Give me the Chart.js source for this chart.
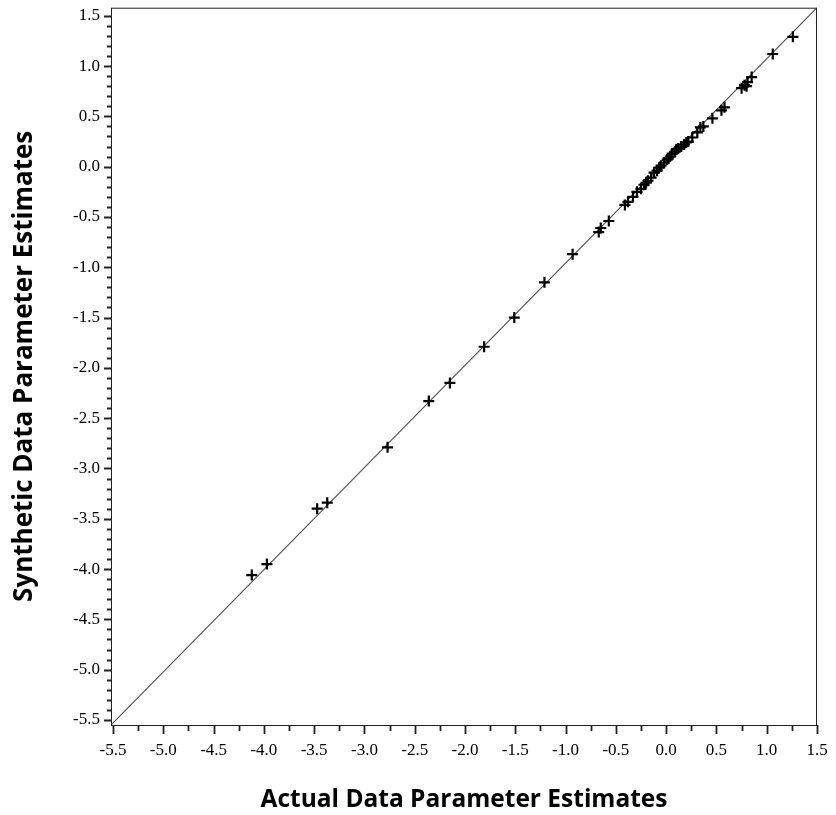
<!DOCTYPE html>
<html>
<head>
<meta charset="utf-8">
<script src="https://cdn.jsdelivr.net/npm/chart.js@4"></script>
<style>
  html, body { margin: 0; padding: 0; background: #ffffff; }
  #wrap { width: 836px; height: 815px; position: relative; }
</style>
</head>
<body>
<div id="wrap"><canvas id="chart"></canvas></div>
<script>
// axis bounds (frame of the plot) and labelled ticks
const xMin = -5.52, xMax = 1.5;
const yMin = -5.55, yMax = 1.58;
const tickValues = [-5.5, -5.0, -4.5, -4.0, -3.5, -3.0, -2.5, -2.0, -1.5, -1.0, -0.5, 0.0, 0.5, 1.0, 1.5];

// parameter estimates
const actualEstimates = [
  -4.12, -3.97, -3.47, -3.37, -2.77, -2.36, -2.15, -1.81, -1.51, -1.21,
  -0.93, -0.67, -0.65, -0.57, -0.41, -0.38, -0.33, -0.29, -0.25, -0.22,
  -0.20, -0.18, -0.15, -0.12, -0.09, -0.07, -0.05, -0.02, 0.01, 0.02,
  0.04, 0.06, 0.09, 0.10, 0.12, 0.15, 0.18, 0.20, 0.22, 0.26,
  0.31, 0.34, 0.37, 0.46, 0.55, 0.58, 0.75, 0.78, 0.80, 0.81,
  0.85, 1.06, 1.26
];
const syntheticEstimates = [
  -4.06, -3.95, -3.40, -3.34, -2.79, -2.33, -2.15, -1.79, -1.50, -1.15,
  -0.87, -0.65, -0.61, -0.54, -0.38, -0.35, -0.30, -0.25, -0.22, -0.18,
  -0.16, -0.14, -0.11, -0.06, -0.04, -0.01, 0.01, 0.04, 0.07, 0.08,
  0.10, 0.13, 0.15, 0.17, 0.18, 0.20, 0.22, 0.24, 0.25, 0.29,
  0.34, 0.39, 0.40, 0.48, 0.56, 0.59, 0.78, 0.81, 0.80, 0.84,
  0.89, 1.12, 1.29
];

const points = actualEstimates.map((x, i) => ({ x: x, y: syntheticEstimates[i] }));
// reference diagonal across the frame
const diagonal = [{ x: xMin, y: yMin }, { x: xMax, y: yMax }];

// frame + outward tick marks (major / minor)
const framePlugin = {
  id: 'frame',
  afterDraw(chart) {
    const { ctx, chartArea: a, scales: { x, y } } = chart;
    ctx.save();
    ctx.strokeStyle = '#222';
    ctx.lineWidth = 1;
    ctx.strokeRect(a.left + 0.5, a.top + 0.5, a.right - a.left - 1, a.bottom - a.top);

    ctx.lineWidth = 1.8;
    ctx.beginPath();
    for (let v = -5.5; v <= 1.5001; v += 0.25) {
      const px = Math.round(x.getPixelForValue(v)) + 0.5;
      const major = Math.abs(v * 2 - Math.round(v * 2)) < 1e-6;
      ctx.moveTo(px, a.bottom);
      ctx.lineTo(px, a.bottom + (major ? 9 : 6));
    }
    for (let k = -55; k <= 15; k++) {
      const py = Math.round(y.getPixelForValue(k / 10)) + 0.5;
      const major = k % 5 === 0;
      ctx.moveTo(a.left, py);
      ctx.lineTo(a.left - (major ? 7 : 4), py);
    }
    ctx.stroke();
    ctx.restore();
  }
};

const tickFont = { family: 'Liberation Serif', size: 17 };

new Chart(document.getElementById('chart').getContext('2d'), {
  type: 'scatter',
  data: {
    datasets: [{
      label: 'Estimates',
      data: points,
      pointStyle: 'cross',
      pointRadius: 5.5,
      pointHoverRadius: 5.5,
      borderColor: '#000',
      backgroundColor: '#000',
      borderWidth: 2.2
    }, {
      label: 'Identity',
      data: diagonal,
      showLine: true,
      pointRadius: 0,
      borderColor: '#555',
      borderWidth: 1.2
    }]
  },
  options: {
    responsive: true,
    maintainAspectRatio: false,
    animation: false,
    layout: { padding: { top: 7, right: 19, left: 0, bottom: 0 } },
    plugins: {
      legend: { display: false },
      tooltip: { enabled: false }
    },
    scales: {
      x: {
        type: 'linear',
        min: xMin,
        max: xMax,
        grid: { display: false, drawTicks: false },
        border: { display: false },
        afterBuildTicks: (s) => { s.ticks = tickValues.map(v => ({ value: v })); },
        afterFit: (s) => { s.height = 90; s.paddingLeft = 0; s.paddingRight = 0; },
        ticks: {
          autoSkip: false,
          maxRotation: 0,
          padding: 15,
          color: '#000',
          font: tickFont,
          callback: (v) => Number(v).toFixed(1)
        },
        title: {
          display: true,
          text: 'Actual Data Parameter Estimates',
          color: '#000',
          font: { family: 'Open Sans', size: 24.5, weight: 'bold' },
          padding: { top: 0, bottom: 0 }
        }
      },
      y: {
        type: 'linear',
        min: yMin,
        max: yMax,
        grid: { display: false, drawTicks: false },
        border: { display: false },
        afterBuildTicks: (s) => { s.ticks = tickValues.map(v => ({ value: v })); },
        afterFit: (s) => { s.width = 111; s.paddingTop = 0; s.paddingBottom = 0; },
        ticks: {
          autoSkip: false,
          padding: 11,
          color: '#000',
          font: tickFont,
          callback: (v) => Number(v).toFixed(1)
        },
        title: {
          display: true,
          text: 'Synthetic Data Parameter Estimates',
          color: '#000',
          font: { family: 'Open Sans', size: 26, weight: 'bold' },
          padding: { top: 9, bottom: 0 }
        }
      }
    }
  },
  plugins: [framePlugin]
});
</script>
</body>
</html>
